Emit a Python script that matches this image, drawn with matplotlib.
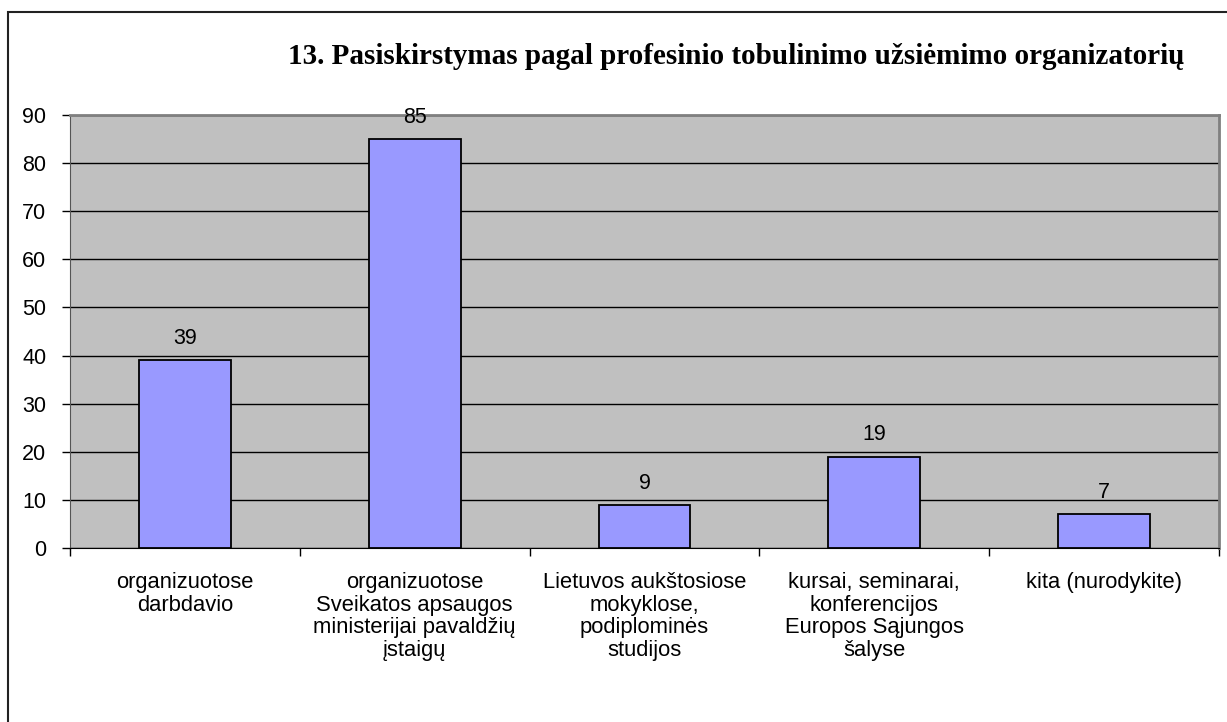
import matplotlib
matplotlib.use("Agg")
import matplotlib.pyplot as plt
import matplotlib.patches as patches
import numpy as np

TITLE = "13. Pasiskirstymas pagal profesinio tobulinimo užsiėmimo organizatorių"
categories = [
    "organizuotose\ndarbdavio",
    "organizuotose\nSveikatos apsaugos\nministerijai pavaldžių\nįstaigų",
    "Lietuvos aukštosiose\nmokyklose,\npodiplominės\nstudijos",
    "kursai, seminarai,\nkonferencijos\nEuropos Sąjungos\nšalyse",
    "kita (nurodykite)",
]
values = [39, 85, 9, 19, 7]
yticks = list(range(0, 100, 10))

W, H = 1227, 722
fig = plt.figure(figsize=(W / 100, H / 100), dpi=100, facecolor="white")

# outer chart frame (runs off the right and bottom edges)
frame = patches.Rectangle((8 / W, -0.05), 1.1, 1 - 12 / H + 0.05,
                          transform=fig.transFigure, facecolor="none",
                          edgecolor="#222222", linewidth=1.5)
fig.add_artist(frame)

ax = fig.add_axes([70 / W, 1 - 548 / H, (1219 - 70) / W, (548 - 115) / H])
ax.set_facecolor("#C0C0C0")

x = np.arange(len(values))
ax.bar(x, values, width=0.4, color="#9999FF", edgecolor="black",
       linewidth=1.3, zorder=3)
for xi, v in zip(x, values):
    ax.text(xi, v + 4.5, str(v), ha="center", va="center",
            fontsize=15.5, family="Liberation Sans", zorder=4)

ax.set_xlim(-0.5, len(values) - 0.5)
ax.set_ylim(0, 90)
ax.set_yticks(yticks)
ax.set_yticklabels([str(t) for t in yticks], fontsize=15.5,
                   family="Liberation Sans")
ax.yaxis.grid(True, color="black", linewidth=1, zorder=1)
ax.set_axisbelow(True)

# x ticks at category boundaries, labels centred under bars
ax.set_xticks(np.arange(-0.5, len(values), 1.0))
ax.set_xticklabels([])
ax.set_xticks(x, minor=True)
ax.set_xticklabels(categories, minor=True, fontsize=15.8,
                   family="Liberation Sans", linespacing=1.12, va="top")
ax.tick_params(axis="x", which="minor", length=0, pad=17)
ax.tick_params(axis="x", which="major", length=6, width=1, color="black")
ax.tick_params(axis="y", length=6, width=1, pad=11)

for s in ("top", "right"):
    ax.spines[s].set_color("#808080")
    ax.spines[s].set_linewidth(2)
ax.spines["left"].set_color("#555555")
ax.spines["bottom"].set_color("black")

fig.text((275 + 1198) / 2 / W, 1 - 57 / H, TITLE, ha="center", va="center",
         fontsize=21, fontweight="bold", family="Liberation Serif")

fig.savefig("out.png", dpi=100, facecolor="white")
